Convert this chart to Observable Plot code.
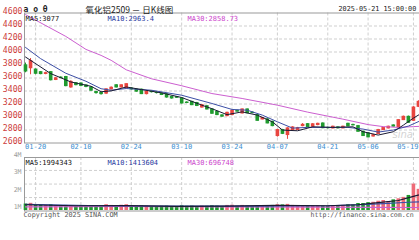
<!DOCTYPE html>
<html><head><meta charset="utf-8">
<script src="https://cdn.jsdelivr.net/npm/d3@7"></script>
<script src="https://cdn.jsdelivr.net/npm/@observablehq/plot@0.6"></script>
<style>
body{margin:0;overflow:hidden;background:#fff}
#wrap{position:relative;width:419px;height:240px;overflow:hidden}
#wrap svg{position:absolute;left:0;top:0}
</style>
</head><body><div id="wrap"></div>
<script>
// ---- data ----
const dates = ["01-16","01-17","01-20","01-21","01-22","01-23","01-24","01-27",
"02-05","02-06","02-07","02-10","02-11","02-12","02-13","02-14","02-17","02-18","02-19","02-20","02-21","02-24","02-25","02-26","02-27","02-28",
"03-03","03-04","03-05","03-06","03-07","03-10","03-11","03-12","03-13","03-14","03-17","03-18","03-19","03-20","03-21","03-24","03-25","03-26","03-27","03-28","03-31",
"04-01","04-02","04-03","04-07","04-08","04-09","04-10","04-11","04-14","04-15","04-16","04-17","04-18","04-21","04-22","04-23","04-24","04-25","04-28","04-29","04-30",
"05-06","05-07","05-08","05-09","05-12","05-13","05-14","05-15","05-16","05-19","05-20","05-21"];
const opens = [3795,3750,3730,3690,3662,3690,3570,3605,
3615,3455,3520,3515,3485,3455,3385,3370,3360,3425,3488,3455,3440,
3438,3420,3420,3352,3388,3372,3362,3350,3308,3305,
3285,3222,3233,3215,3146,3166,3116,3079,3025,3013,
3030,3095,3055,3116,3066,3029,2962,2963,2926,
2707,2799,2722,2800,2800,2860,2890,2850,2876,2900,
2832,2825,2840,2825,2895,2878,2860,2773,
2748,2700,2738,2799,2825,2870,2840,2952,3003,2941,3156,3100];
const closes = [3700,3860,3665,3660,3675,3565,3595,3600,
3475,3540,3490,3478,3462,3405,3368,3352,3425,3450,3455,3488,3505,
3425,3390,3352,3385,3382,3368,3338,3300,3285,3295,
3208,3215,3182,3170,3182,3116,3050,3030,3005,3064,
3095,3082,3116,3058,3060,2941,2985,2901,2860,
2799,2740,2825,2840,2828,2880,2842,2888,2895,2828,
2828,2850,2826,2850,2856,2872,2773,2707,
2687,2720,2799,2830,2850,2852,2952,3003,2911,3146,3233,3290];
const highs = [3830,3900,3740,3700,3690,3700,3610,3620,
3625,3560,3530,3525,3495,3465,3395,3380,3435,3465,3500,3495,3515,
3450,3430,3430,3395,3400,3385,3370,3360,3320,3315,
3295,3235,3240,3225,3190,3175,3125,3090,3035,3075,
3105,3105,3125,3125,3080,3040,2995,2975,2935,
2810,2810,2835,2850,2840,2900,2900,2900,2905,2910,
2845,2860,2850,2860,2905,2890,2870,2785,
2760,2735,2810,2840,2860,2880,2960,3015,3015,3160,3250,3320];
const lows = [3680,3650,3650,3650,3650,3555,3560,3590,
3465,3440,3480,3465,3450,3395,3350,3335,3345,3415,3445,3445,3430,
3415,3380,3345,3340,3370,3355,3330,3290,3275,3285,
3200,3205,3175,3160,3135,3108,3040,3020,2995,3005,
3020,3075,3045,3050,3050,2935,2955,2895,2850,
2690,2730,2656,2790,2795,2850,2835,2840,2865,2820,
2815,2815,2815,2818,2850,2862,2765,2700,
2680,2690,2730,2790,2815,2845,2830,2945,2900,2930,3145,3090];
const volumes = [1.17e6,1.21e6,1.13e6,1.115e6,1.09e6,1.13e6,1.07e6,1.05e6,
1.09e6,1.07e6,1.04e6,1.07e6,1.05e6,1.08e6,1.05e6,1.04e6,1.13e6,1.09e6,1.05e6,1.1e6,1.13e6,
1.05e6,1.04e6,1.07e6,1.05e6,1.02e6,1.01e6,1.04e6,1.05e6,1.03e6,1.01e6,
1.07e6,1.04e6,1.05e6,1.02e6,1.05e6,1.04e6,1.07e6,1.05e6,1.01e6,1.09e6,
1.1e6,1.04e6,1.09e6,1.05e6,1.02e6,1.08e6,1.05e6,1.07e6,1.09e6,
1.13e6,1.12e6,1.15e6,1.09e6,1.07e6,1.05e6,1.08e6,1.05e6,1.07e6,1.05e6,
1.04e6,1.07e6,1.05e6,1.09e6,1.13e6,1.12e6,1.2e6,1.2e6,
1.25e6,1.27e6,1.33e6,1.37e6,1.31e6,1.41e6,1.47e6,1.55e6,1.66e6,2.31e6,2.01e6,2.17e6];
const ma5 = [[0,3923],[5,3668],[9,3539],[13,3473],[15,3389],[17,3401],[20,3462],[23,3423],[27,3371],[31,3300],[35,3182],[37,3128],[40,3036],[43,3079],[46,3029],[49,2926],[51,2799],[54,2788],[57,2849],[61,2840],[65,2849],[67,2773],[70,2722],[73,2773],[75,2875],[77,2983],[79,3077]];
const ma10 = [[0,4071],[3,3898],[8,3673],[12,3550],[15,3435],[17,3412],[20,3438],[25,3412],[31,3335],[37,3208],[41,3116],[44,3105],[47,3029],[50,2926],[53,2829],[56,2840],[59,2840],[64,2840],[67,2814],[70,2768],[73,2799],[76,2860],[79,2963.4]];
const ma30 = [[0,4575],[8,4240],[12,4040],[15,3948],[17,3872],[20,3726],[25,3588],[31,3481],[37,3361],[43,3285],[50,3182],[56,3075],[63,2967],[68,2883],[71,2852],[74,2840],[77,2852],[79,2858.73]];
const vma5 = [[0,1.13e6],[10,1.07e6],[20,1.08e6],[30,1.04e6],[40,1.05e6],[50,1.09e6],[60,1.07e6],[66,1.13e6],[70,1.25e6],[74,1.37e6],[77,1.61e6],[79,1.77e6]];
const vma10 = [[0,1.15e6],[15,1.07e6],[30,1.05e6],[45,1.05e6],[60,1.07e6],[68,1.15e6],[72,1.21e6],[76,1.27e6],[79,1.3e6]];
const vma30 = [[0,1.01e6],[20,1.03e6],[40,1.01e6],[60,0.99e6],[70,0.98e6],[79,0.97e6]];
const priceTicks = [2600,2800,3000,3200,3400,3600,3800,4000,4200,4400,4600];
const priceGrid = [2800,3000,3200,3400,3600,3800,4000,4200,4400];
const volTicks = [1e6,2e6,3e6,4e6];
const volGrid = [1.54e6,2.31e6,3.09e6];
const volBase = 0.8e6;
const axisDates = ["01-20","02-10","02-24","03-10","03-24","04-07","04-21","05-06","05-19"];
const title = "氧化铝2509 － 日K线图";
const stamp = "2025-05-21 15:00:00";
const maLabels = ["MA5:3077","MA10:2963.4","MA30:2858.73"];
const volLabels = ["MA5:1994343","MA10:1413604","MA30:696748"];

// ---- build ----
const RED = "#e8453f", GREEN = "#1f9a2e";
const C5 = "#1a1a33", C10 = "#3d4fa6", C30 = "#cc5fd0";
const mono = "DejaVu Sans Mono, Liberation Mono, monospace";
const candles = dates.map((d,i)=>({i,o:opens[i],h:highs[i],l:lows[i],c:closes[i],v:volumes[i],col:closes[i]>=opens[i]?RED:GREEN}));
const pts = a => a.map(([i,v])=>({i,v}));
const axisIdx = axisDates.map(d=>dates.indexOf(d));
const lastAxis = axisIdx[axisIdx.length-1];
const xScale = {type:"linear", domain:[0, dates.length-1], range:[25, 423], axis:null};
const grid = {stroke:"#cfcfcf", strokeDasharray:"3,2", strokeWidth:1};
const txt = (s, o) => Plot.text([s], {text: d=>d, fontFamily: mono, fontSize: 7, ...o});

const price = Plot.plot({
  width:419, height:240, marginLeft:24, marginTop:12.5, marginBottom:97.5, marginRight:-12,
  style:{background:"transparent"},
  x: xScale,
  y: {domain:[2600,4600], range:[142.5,12.5], axis:null},
  color: {type:"identity"},
  marks: [
    Plot.ruleY(priceGrid, {y:d=>d, ...grid}),
    Plot.ruleX(axisIdx, {x:d=>d, ...grid}),
    Plot.frame({stroke:"#9a9a9a"}),
    Plot.text(priceTicks, {y:d=>d, text:d=>String(d), frameAnchor:"left", textAnchor:"end", dx:-2, dy:-1.5, fill:"#cc3b3b", fontSize:8.2, fontFamily:mono}),
    Plot.text(axisIdx.filter(d=>d!==lastAxis), {x:d=>d, text:d=>dates[d], frameAnchor:"bottom", dy:6, fill:"#3d8fd1", fontSize:7, fontFamily:mono}),
    Plot.text([lastAxis], {x:d=>d, text:d=>dates[d], frameAnchor:"bottom", dy:6, dx:5, textAnchor:"end", fill:"#3d8fd1", fontSize:7, fontFamily:mono}),
    Plot.ruleX(candles, {x:"i", y1:"h", y2:"l", stroke:"col", strokeWidth:1}),
    Plot.ruleX(candles, {x:"i", y1:d=>Math.max(d.o,d.c), y2:d=>Math.min(d.o,d.c), stroke:"col", strokeWidth:3.6, insetTop:-0.5, insetBottom:-0.5}),
    Plot.line(pts(ma30), {x:"i", y:"v", stroke:C30, strokeWidth:1}),
    Plot.line(pts(ma10), {x:"i", y:"v", stroke:C10, strokeWidth:1}),
    Plot.line(pts(ma5), {x:"i", y:"v", stroke:C5, strokeWidth:1}),
    txt("sina", {frameAnchor:"top-left", dx:368, dy:118, fill:"#d4d4d4", fontSize:10, fontStyle:"italic", fontFamily:"DejaVu Sans, sans-serif", textAnchor:"start"}),
    txt(maLabels[0], {frameAnchor:"top-left", dx:1, dy:3.5, fill:"#111", textAnchor:"start"}),
    txt(maLabels[1], {frameAnchor:"top-left", dx:83, dy:3.5, fill:"#2a3aa0", textAnchor:"start"}),
    txt(maLabels[2], {frameAnchor:"top-left", dx:163, dy:3.5, fill:"#cc44cc", textAnchor:"start"}),
    txt("a o θ", {frameAnchor:"top-left", dx:-1, dy:-6.5, fill:"#222", fontSize:8, fontWeight:"bold", textAnchor:"start"}),
    txt(title, {frameAnchor:"top-left", dx:61, dy:-6.5, fill:"#222", fontSize:8.5, fontFamily:"Noto Sans CJK SC, sans-serif", textAnchor:"start"}),
    txt(stamp, {frameAnchor:"top-left", dx:314, dy:-6.5, fill:"#222", fontSize:6.8, textAnchor:"start"})
  ]
});

const vol = Plot.plot({
  width:419, height:240, marginLeft:24, marginTop:157, marginBottom:29.5, marginRight:-12,
  style:{background:"transparent"},
  x: xScale,
  y: {domain:[volBase, 4e6], range:[210, 154], axis:null},
  color: {type:"identity"},
  marks: [
    Plot.ruleY(volGrid, {y:d=>d, ...grid}),
    Plot.ruleX(axisIdx, {x:d=>d, ...grid}),
    Plot.frame({stroke:"#9a9a9a"}),
    Plot.text(volTicks, {y:d=>d, text:d=>(d/1e6)+"M", frameAnchor:"left", textAnchor:"end", dx:-3, fill:"#9a9a9a", fontSize:6.5, fontFamily:mono}),
    Plot.ruleX(candles, {x:"i", y1:volBase, y2:"v", stroke:d=>d.col===RED?"#ee6b78":GREEN, strokeWidth:3.6}),
    Plot.line(pts(vma30), {x:"i", y:"v", stroke:C30, strokeWidth:1.2}),
    Plot.line(pts(vma10), {x:"i", y:"v", stroke:C10, strokeWidth:1.2}),
    Plot.line(pts(vma5), {x:"i", y:"v", stroke:C5, strokeWidth:1.2}),
    txt(volLabels[0], {frameAnchor:"top-left", dx:1, dy:3, fill:"#111", textAnchor:"start"}),
    txt(volLabels[1], {frameAnchor:"top-left", dx:83, dy:3, fill:"#2a3aa0", textAnchor:"start"}),
    txt(volLabels[2], {frameAnchor:"top-left", dx:163, dy:3, fill:"#cc44cc", textAnchor:"start"}),
    txt("Copyright 2025 SINA.COM", {frameAnchor:"bottom-left", dx:-1, dy:5.5, fill:"#555", fontSize:6.8, textAnchor:"start"}),
    txt("http://finance.sina.com.cn", {frameAnchor:"bottom-left", dx:286, dy:5.5, fill:"#555", fontSize:6.6, textAnchor:"start"})
  ]
});

const wrap = document.getElementById("wrap");
wrap.appendChild(price);
wrap.appendChild(vol);
</script>
</body></html>
